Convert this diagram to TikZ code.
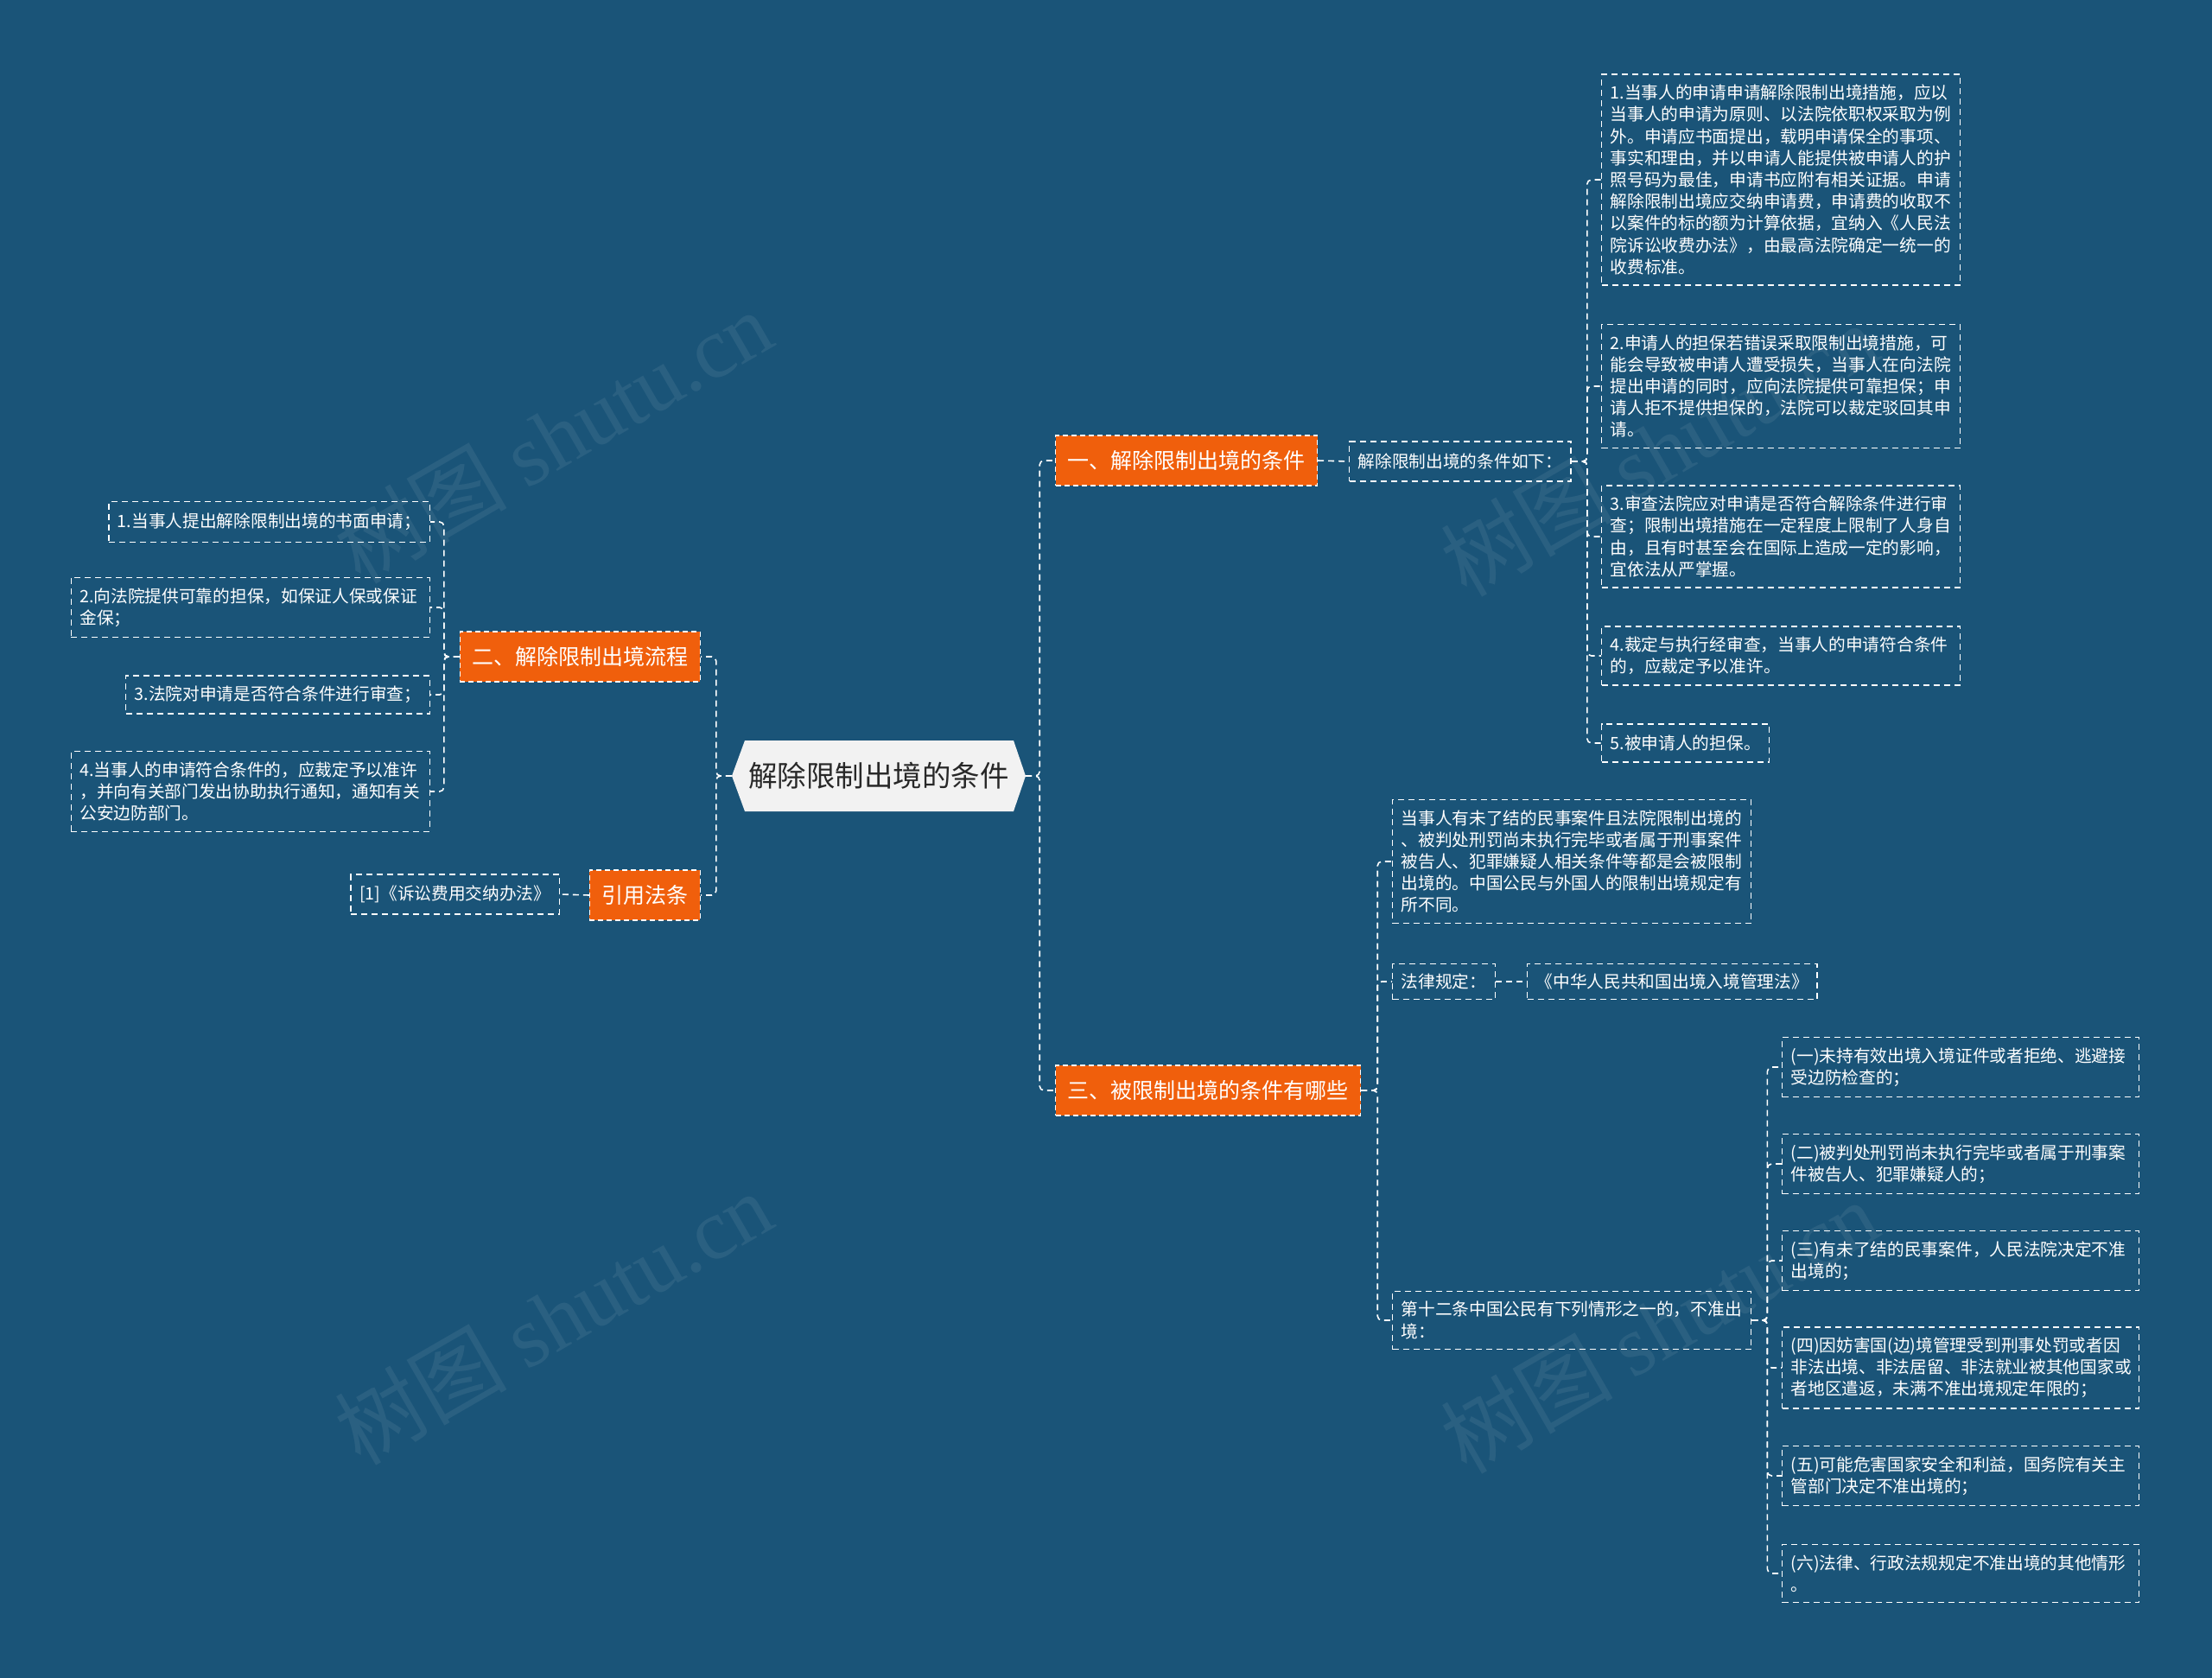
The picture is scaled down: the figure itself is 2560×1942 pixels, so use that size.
\documentclass[tikz,border=0pt]{standalone}
\usepackage{fontspec}
\setmainfont{Noto Sans CJK SC}
\newfontfamily\wmfont{Liberation Serif}
\newfontfamily\wmcjk{Noto Sans CJK SC}
\definecolor{bg}{RGB}{26,84,120}
\definecolor{org}{RGB}{240,95,12}
\definecolor{rootfill}{RGB}{242,242,242}
\definecolor{roottext}{RGB}{40,40,40}
\tikzset{
  leaf/.style={draw=white, line width=1.4pt, dash pattern=on 7pt off 5pt, text=white,
    font=\fontsize{19.7}{25.2}\selectfont, inner xsep=10pt, inner ysep=12pt, align=left},
  topic/.style={draw=white, fill=org, line width=1.2pt, dash pattern=on 6pt off 4pt, text=white,
    font=\fontsize{25}{30}\selectfont, inner xsep=14pt, minimum height=58pt},
  conn/.style={draw=white, line width=1.6pt, dash pattern=on 7pt off 5pt, rounded corners=5pt},
  wm/.style={text=white, opacity=0.07, rotate=30, font=\fontsize{100}{110}\selectfont}
}
\begin{document}
\begin{tikzpicture}[x=1pt,y=-1pt]
\fill[bg] (0,0) rectangle (2560,1942);
\useasboundingbox (0,0) rectangle (2560,1942);

% watermarks
\node[wm] at (640,505) {\wmcjk 树图 \wmfont shutu.cn};
\node[wm] at (640,1525) {\wmcjk 树图 \wmfont shutu.cn};
\node[wm] at (1920,520) {\wmcjk 树图 \wmfont shutu.cn};
\node[wm] at (1920,1535) {\wmcjk 树图 \wmfont shutu.cn};

% root
\fill[rootfill] (847,898) -- (862,857) -- (1173,857) -- (1187,898) -- (1173,939) -- (862,939) -- cycle;
\node[minimum width=340pt, minimum height=82pt, text=roottext, font=\fontsize{33.5}{40}\selectfont] (c) at (1017,898) {解除限制出境的条件};

% main topics
\node[topic, anchor=west] (n1) at (1221,533) {一、解除限制出境的条件};
\node[topic, anchor=east] (n2) at (811,760) {二、解除限制出境流程};
\node[topic, anchor=west] (n3) at (1221,1262) {三、被限制出境的条件有哪些};
\node[topic, anchor=east] (n4) at (811,1036) {引用法条};

% branch 1
\node[leaf, anchor=west, minimum height=46pt, inner ysep=6pt] (n1a) at (1561,534) {解除限制出境的条件如下：};
\node[leaf, anchor=west, text width=395pt] (r1) at (1853,208) {1.当事人的申请申请解除限制出境措施，应以\\当事人的申请为原则、以法院依职权采取为例\\外。申请应书面提出，载明申请保全的事项、\\事实和理由，并以申请人能提供被申请人的护\\照号码为最佳，申请书应附有相关证据。申请\\解除限制出境应交纳申请费，申请费的收取不\\以案件的标的额为计算依据，宜纳入《人民法\\院诉讼收费办法》，由最高法院确定一统一的\\收费标准。};
\node[leaf, anchor=west, text width=395pt] (r2) at (1853,447) {2.申请人的担保若错误采取限制出境措施，可\\能会导致被申请人遭受损失，当事人在向法院\\提出申请的同时，应向法院提供可靠担保；申\\请人拒不提供担保的，法院可以裁定驳回其申\\请。};
\node[leaf, anchor=west, text width=395pt] (r3) at (1853,621) {3.审查法院应对申请是否符合解除条件进行审\\查；限制出境措施在一定程度上限制了人身自\\由，且有时甚至会在国际上造成一定的影响，\\宜依法从严掌握。};
\node[leaf, anchor=west, text width=395pt] (r4) at (1853,759) {4.裁定与执行经审查，当事人的申请符合条件\\的，应裁定予以准许。};
\node[leaf, anchor=west, minimum height=44pt, inner ysep=6pt] (r5) at (1853,860) {5.被申请人的担保。};

% branch 2
\node[leaf, anchor=east, minimum height=47pt, inner ysep=6pt] (l1) at (498,604) {1.当事人提出解除限制出境的书面申请；};
\node[leaf, anchor=east, text width=395pt] (l2) at (498,703) {2.向法院提供可靠的担保，如保证人保或保证\\金保；};
\node[leaf, anchor=east, minimum height=44pt, inner ysep=6pt] (l3) at (498,804) {3.法院对申请是否符合条件进行审查；};
\node[leaf, anchor=east, text width=395pt] (l4) at (498,916) {4.当事人的申请符合条件的，应裁定予以准许\\，并向有关部门发出协助执行通知，通知有关\\公安边防部门。};

% branch 4
\node[leaf, anchor=east, minimum height=46pt, inner ysep=6pt] (n4a) at (648,1035) {[1]《诉讼费用交纳办法》};

% branch 3
\node[leaf, anchor=west, text width=395pt] (s1) at (1611,997) {当事人有未了结的民事案件且法院限制出境的\\、被判处刑罚尚未执行完毕或者属于刑事案件\\被告人、犯罪嫌疑人相关条件等都是会被限制\\出境的。中国公民与外国人的限制出境规定有\\所不同。};
\node[leaf, anchor=west, minimum height=41pt, inner ysep=5pt] (s2) at (1611,1136) {法律规定：};
\node[leaf, anchor=west, minimum height=41pt, inner ysep=5pt] (s2b) at (1767,1136) {《中华人民共和国出境入境管理法》};
\node[leaf, anchor=west, text width=395pt] (s3) at (1611,1528) {第十二条中国公民有下列情形之一的，不准出\\境：};

\node[leaf, anchor=west, text width=393pt] (t1) at (2062,1235) {(一)未持有效出境入境证件或者拒绝、逃避接\\受边防检查的；};
\node[leaf, anchor=west, text width=393pt] (t2) at (2062,1347) {(二)被判处刑罚尚未执行完毕或者属于刑事案\\件被告人、犯罪嫌疑人的；};
\node[leaf, anchor=west, text width=393pt] (t3) at (2062,1459) {(三)有未了结的民事案件，人民法院决定不准\\出境的；};
\node[leaf, anchor=west, text width=393pt] (t4) at (2062,1583) {(四)因妨害国(边)境管理受到刑事处罚或者因\\非法出境、非法居留、非法就业被其他国家或\\者地区遣返，未满不准出境规定年限的；};
\node[leaf, anchor=west, text width=393pt] (t5) at (2062,1708) {(五)可能危害国家安全和利益，国务院有关主\\管部门决定不准出境的；};
\node[leaf, anchor=west, text width=393pt] (t6) at (2062,1821) {(六)法律、行政法规规定不准出境的其他情形\\。};

% connectors
\draw[conn] (c.east) -- ++(16,0) |- (n1.west);
\draw[conn] (c.east) -- ++(16,0) |- (n3.west);
\draw[conn] (c.west) -- ++(-18,0) |- (n2.east);
\draw[conn] (c.west) -- ++(-18,0) |- (n4.east);

\draw[conn] (n1.east) -- (n1a.west);
\foreach \t in {r1,r2,r3,r4,r5} \draw[conn] (n1a.east) -- ++(18,0) |- (\t.west);

\foreach \t in {l1,l2,l3,l4} \draw[conn] (n2.west) -- ++(-18,0) |- (\t.east);
\draw[conn] (n4.west) -- (n4a.east);

\foreach \t in {s1,s2,s3} \draw[conn] (n3.east) -- ++(19,0) |- (\t.west);
\draw[conn] (s2.east) -- (s2b.west);
\foreach \t in {t1,t2,t3,t4,t5,t6} \draw[conn] (s3.east) -- ++(18,0) |- (\t.west);
\end{tikzpicture}
\end{document}
